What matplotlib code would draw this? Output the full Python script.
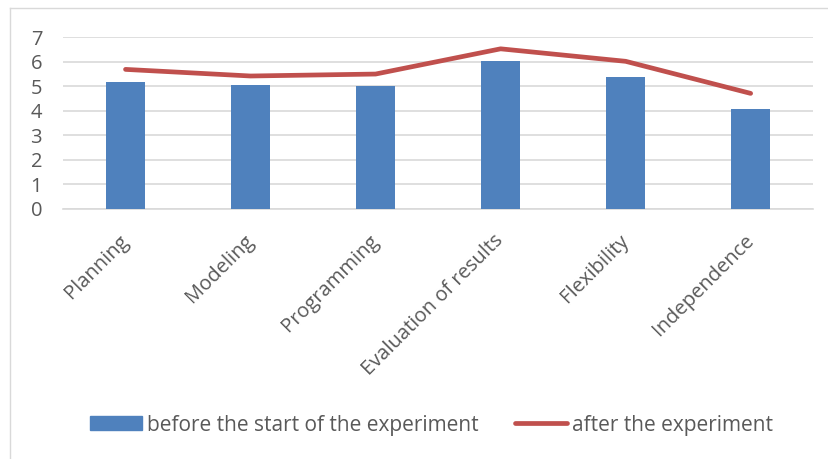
import matplotlib.pyplot as plt
import matplotlib.lines as mlines
import matplotlib.patches as mpatches
import matplotlib.transforms as mtransforms
import numpy as np

categories = ["Planning", "Modeling", "Programming", "Evaluation of results",
              "Flexibility", "Independence"]
before = [5.17, 5.04, 5.0, 6.04, 5.39, 4.06]
after = [5.69, 5.42, 5.5, 6.53, 6.02, 4.71]

BAR_COLOR = "#4f81bd"
LINE_COLOR = "#c0504d"
TEXT_COLOR = "#595959"
GRID_COLOR = "#d9d9d9"

plt.rcParams['font.family'] = ['Open Sans', 'DejaVu Sans']

fig = plt.figure(figsize=(8.29, 4.59), dpi=100)
ax = fig.add_axes([0.076, 0.5453, 0.9049, 0.3734])

x = np.arange(len(categories))
ax.bar(x, before, width=0.31, color=BAR_COLOR, zorder=3)
ax.plot(x, after, color=LINE_COLOR, linewidth=3.4, solid_capstyle='round',
        solid_joinstyle='round', zorder=4)

ax.set_xlim(-0.5, len(categories) - 0.5)
ax.set_ylim(0, 7)
ax.set_yticks(range(0, 8))
ax.yaxis.grid(True, color=GRID_COLOR, linewidth=1.2, zorder=0)
ax.tick_params(axis='y', length=0, pad=15, labelsize=14.5, labelcolor=TEXT_COLOR)
ax.tick_params(axis='x', length=0, pad=11)
ax.set_xticks(x)
ax.set_xticklabels(categories, rotation=45, ha='right', rotation_mode='anchor',
                   fontsize=14.5, color=TEXT_COLOR)
# nudge the slanted labels down-left a bit
shift = mtransforms.ScaledTranslation(-0.07, -0.07, fig.dpi_scale_trans)
for lbl in ax.get_xticklabels():
    lbl.set_transform(lbl.get_transform() + shift)
for s in ['top', 'right', 'left']:
    ax.spines[s].set_visible(False)
ax.spines['bottom'].set_color(GRID_COLOR)
ax.spines['bottom'].set_linewidth(1.2)

# outer chart border (only top/left visible in the reference)
fig.add_artist(mlines.Line2D([10 / 829, 10 / 829], [0, 1 - 8 / 459],
                             transform=fig.transFigure, color=GRID_COLOR, linewidth=1))
fig.add_artist(mlines.Line2D([10 / 829, 1], [1 - 8 / 459, 1 - 8 / 459],
                             transform=fig.transFigure, color=GRID_COLOR, linewidth=1))

handles = [mpatches.Patch(color=BAR_COLOR, label="before the start of the experiment"),
           mlines.Line2D([], [], color=LINE_COLOR, linewidth=3.4, solid_capstyle='round',
                         label="after the experiment")]
fig.legend(handles=handles, loc='center', bbox_to_anchor=(0.5205, 1 - 425 / 459),
           ncol=2, frameon=False, fontsize=15, labelcolor=TEXT_COLOR,
           handlelength=2.5, handleheight=0.67, handletextpad=0.24, columnspacing=1.78)

fig.savefig("out.png", dpi=100)
